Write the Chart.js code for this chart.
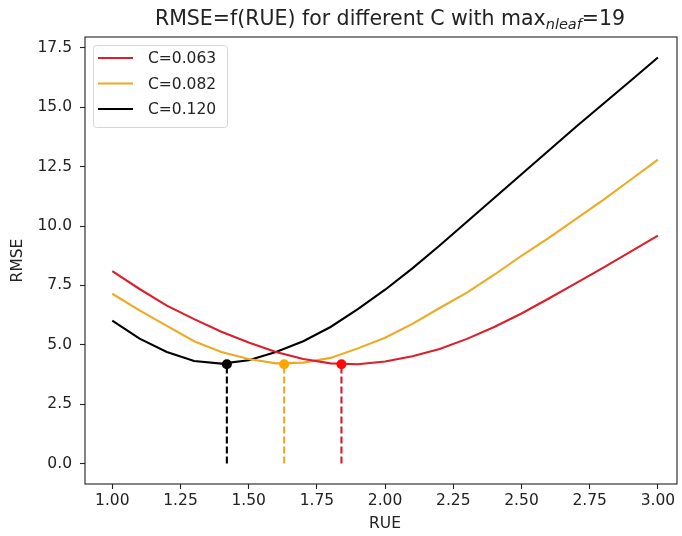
<!DOCTYPE html>
<html>
<head>
<meta charset="utf-8">
<script src="https://cdn.jsdelivr.net/npm/chart.js@4"></script>
<style>
  body { margin: 0; background: #fff; }
  canvas { display: block; }
</style>
</head>
<body>
<canvas id="myChart" width="682" height="536"></canvas>
<script>
// values
const rue = [1.0, 1.1, 1.2, 1.3, 1.4, 1.5, 1.6, 1.7, 1.8, 1.9, 2.0,
             2.1, 2.2, 2.3, 2.4, 2.5, 2.6, 2.7, 2.8, 2.9, 3.0];
const rmseC063 = [8.10, 7.35, 6.65, 6.08, 5.55, 5.10, 4.70, 4.40, 4.22, 4.18, 4.30,
                  4.52, 4.82, 5.25, 5.75, 6.32, 6.95, 7.60, 8.25, 8.92, 9.60];
const rmseC082 = [7.15, 6.45, 5.80, 5.15, 4.70, 4.40, 4.22, 4.25, 4.45, 4.85, 5.30,
                  5.88, 6.55, 7.20, 7.95, 8.75, 9.50, 10.30, 11.10, 11.95, 12.80];
const rmseC120 = [6.02, 5.26, 4.70, 4.32, 4.21, 4.35, 4.70, 5.15, 5.75, 6.50, 7.32,
                  8.22, 9.18, 10.18, 11.18, 12.18, 13.18, 14.18, 15.15, 16.12, 17.10];
const seriesNames = ["C=0.063", "C=0.082", "C=0.120"];
const bestRue = [1.84, 1.63, 1.42];
const bestRmse = [4.18, 4.18, 4.18];
const xTicks = [1.0, 1.25, 1.5, 1.75, 2.0, 2.25, 2.5, 2.75, 3.0];
const yTicks = [0, 2.5, 5, 7.5, 10, 12.5, 15, 17.5];

const lineColors = ["#dc1f2d", "#eeaa22", "#000000"];
const dashColors = ["#d01c34", "#eeaa22", "#000000"];
const dotColors = ["#ff0a0a", "#ffa500", "#000000"];
const FONT = "DejaVu Sans";
const TXT = "#222222";

const allSeries = [rmseC063, rmseC082, rmseC120];
const datasets = [];
allSeries.forEach((ys, i) => {
  datasets.push({
    label: seriesNames[i],
    data: rue.map((x, k) => ({ x: x, y: ys[k] })),
    borderColor: lineColors[i],
    borderWidth: 2.1,
    pointRadius: 0,
    tension: 0,
    inLegend: true,
    order: 2,
  });
});
bestRue.forEach((x, i) => {
  datasets.push({
    label: "min " + seriesNames[i],
    data: [{ x: x, y: 0 }, { x: x, y: bestRmse[i] }],
    borderColor: dashColors[i],
    borderWidth: 2.1,
    borderDash: [7, 3],
    pointRadius: 0,
    order: 3,
  });
  datasets.push({
    label: "best " + seriesNames[i],
    data: [{ x: x, y: bestRmse[i] }],
    showLine: false,
    pointRadius: 5,
    pointBackgroundColor: dotColors[i],
    pointBorderColor: dotColors[i],
    pointBorderWidth: 0,
    order: 1,
  });
});

// frame, title with subscript, axis labels and legend
const decor = {
  id: "decor",
  afterDraw(chart) {
    const ctx = chart.ctx;
    const a = chart.chartArea;
    ctx.save();
    ctx.strokeStyle = TXT;
    ctx.lineWidth = 1.1;
    ctx.strokeRect(a.left, a.top, a.right - a.left, a.bottom - a.top);

    // title
    const main = "RMSE=f(RUE) for different C with max";
    const sub = "nleaf";
    const tail = "=19";
    ctx.fillStyle = TXT;
    ctx.textBaseline = "alphabetic";
    ctx.font = "20.5px '" + FONT + "'";
    const w1 = ctx.measureText(main).width;
    const w3 = ctx.measureText(tail).width;
    ctx.font = "italic 14.5px '" + FONT + "'";
    const w2 = ctx.measureText(sub).width;
    let tx = 390 - (w1 + w2 + w3) / 2;
    const ty = 25;
    ctx.font = "20.5px '" + FONT + "'";
    ctx.textAlign = "left";
    ctx.fillText(main, tx, ty);
    tx += w1;
    ctx.font = "italic 14.5px '" + FONT + "'";
    ctx.fillText(sub, tx, ty + 4);
    tx += w2;
    ctx.font = "20.5px '" + FONT + "'";
    ctx.fillText(tail, tx, ty);

    // axis labels
    ctx.font = "15.5px '" + FONT + "'";
    ctx.textAlign = "center";
    ctx.textBaseline = "middle";
    ctx.fillText("RUE", 385, 524);
    ctx.translate(18, (a.top + a.bottom) / 2);
    ctx.rotate(-Math.PI / 2);
    ctx.fillText("RMSE", 0, 0);
    ctx.setTransform(1, 0, 0, 1, 0, 0);

    // legend
    const items = chart.data.datasets.filter(d => d.inLegend);
    const bx = 93, by = 45, bw = 134, bh = 82;
    ctx.beginPath();
    ctx.roundRect(bx + 0.5, by + 0.5, bw, bh, 3);
    ctx.fillStyle = "rgba(255,255,255,0.85)";
    ctx.fill();
    ctx.strokeStyle = "#d6d6d6";
    ctx.lineWidth = 1;
    ctx.stroke();
    ctx.font = "15.5px '" + FONT + "'";
    ctx.textAlign = "left";
    ctx.textBaseline = "middle";
    items.forEach((d, i) => {
      const ly = 58 + i * 25.5;
      ctx.beginPath();
      ctx.moveTo(98, ly);
      ctx.lineTo(133, ly);
      ctx.strokeStyle = d.borderColor;
      ctx.lineWidth = 2.1;
      ctx.stroke();
      ctx.fillStyle = TXT;
      ctx.fillText(d.label, 148, ly + 1);
    });
    ctx.restore();
  },
};

const ctx = document.getElementById("myChart").getContext("2d");
const myChart = new Chart(ctx, {
  type: "line",
  data: { datasets: datasets },
  options: {
    responsive: false,
    animation: false,
    devicePixelRatio: 1,
    layout: { padding: { top: 37, right: 4, left: 0, bottom: 0 } },
    plugins: { legend: { display: false }, tooltip: { enabled: false } },
    scales: {
      x: {
        type: "linear",
        min: 0.9,
        max: 3.07,
        afterBuildTicks: (s) => { s.ticks = xTicks.map(v => ({ value: v })); },
        afterFit: (s) => { s.height = 52; },
        grid: { display: true, drawOnChartArea: false, tickLength: 5, tickColor: TXT, tickWidth: 1.1 },
        border: { display: false },
        ticks: {
          callback: (v) => Number(v).toFixed(2),
          font: { family: FONT, size: 15.5 },
          color: TXT,
          padding: 3,
          maxRotation: 0,
          autoSkip: false,
        },
      },
      y: {
        type: "linear",
        min: -0.86,
        max: 17.96,
        afterBuildTicks: (s) => { s.ticks = yTicks.map(v => ({ value: v })); },
        afterFit: (s) => { s.width = 85; },
        grid: { display: true, drawOnChartArea: false, tickLength: 5, tickColor: TXT, tickWidth: 1.1 },
        border: { display: false },
        ticks: {
          callback: (v) => Number(v).toFixed(1),
          font: { family: FONT, size: 15.5 },
          color: TXT,
          padding: 8,
          autoSkip: false,
        },
      },
    },
  },
  plugins: [decor],
});
</script>
</body>
</html>
